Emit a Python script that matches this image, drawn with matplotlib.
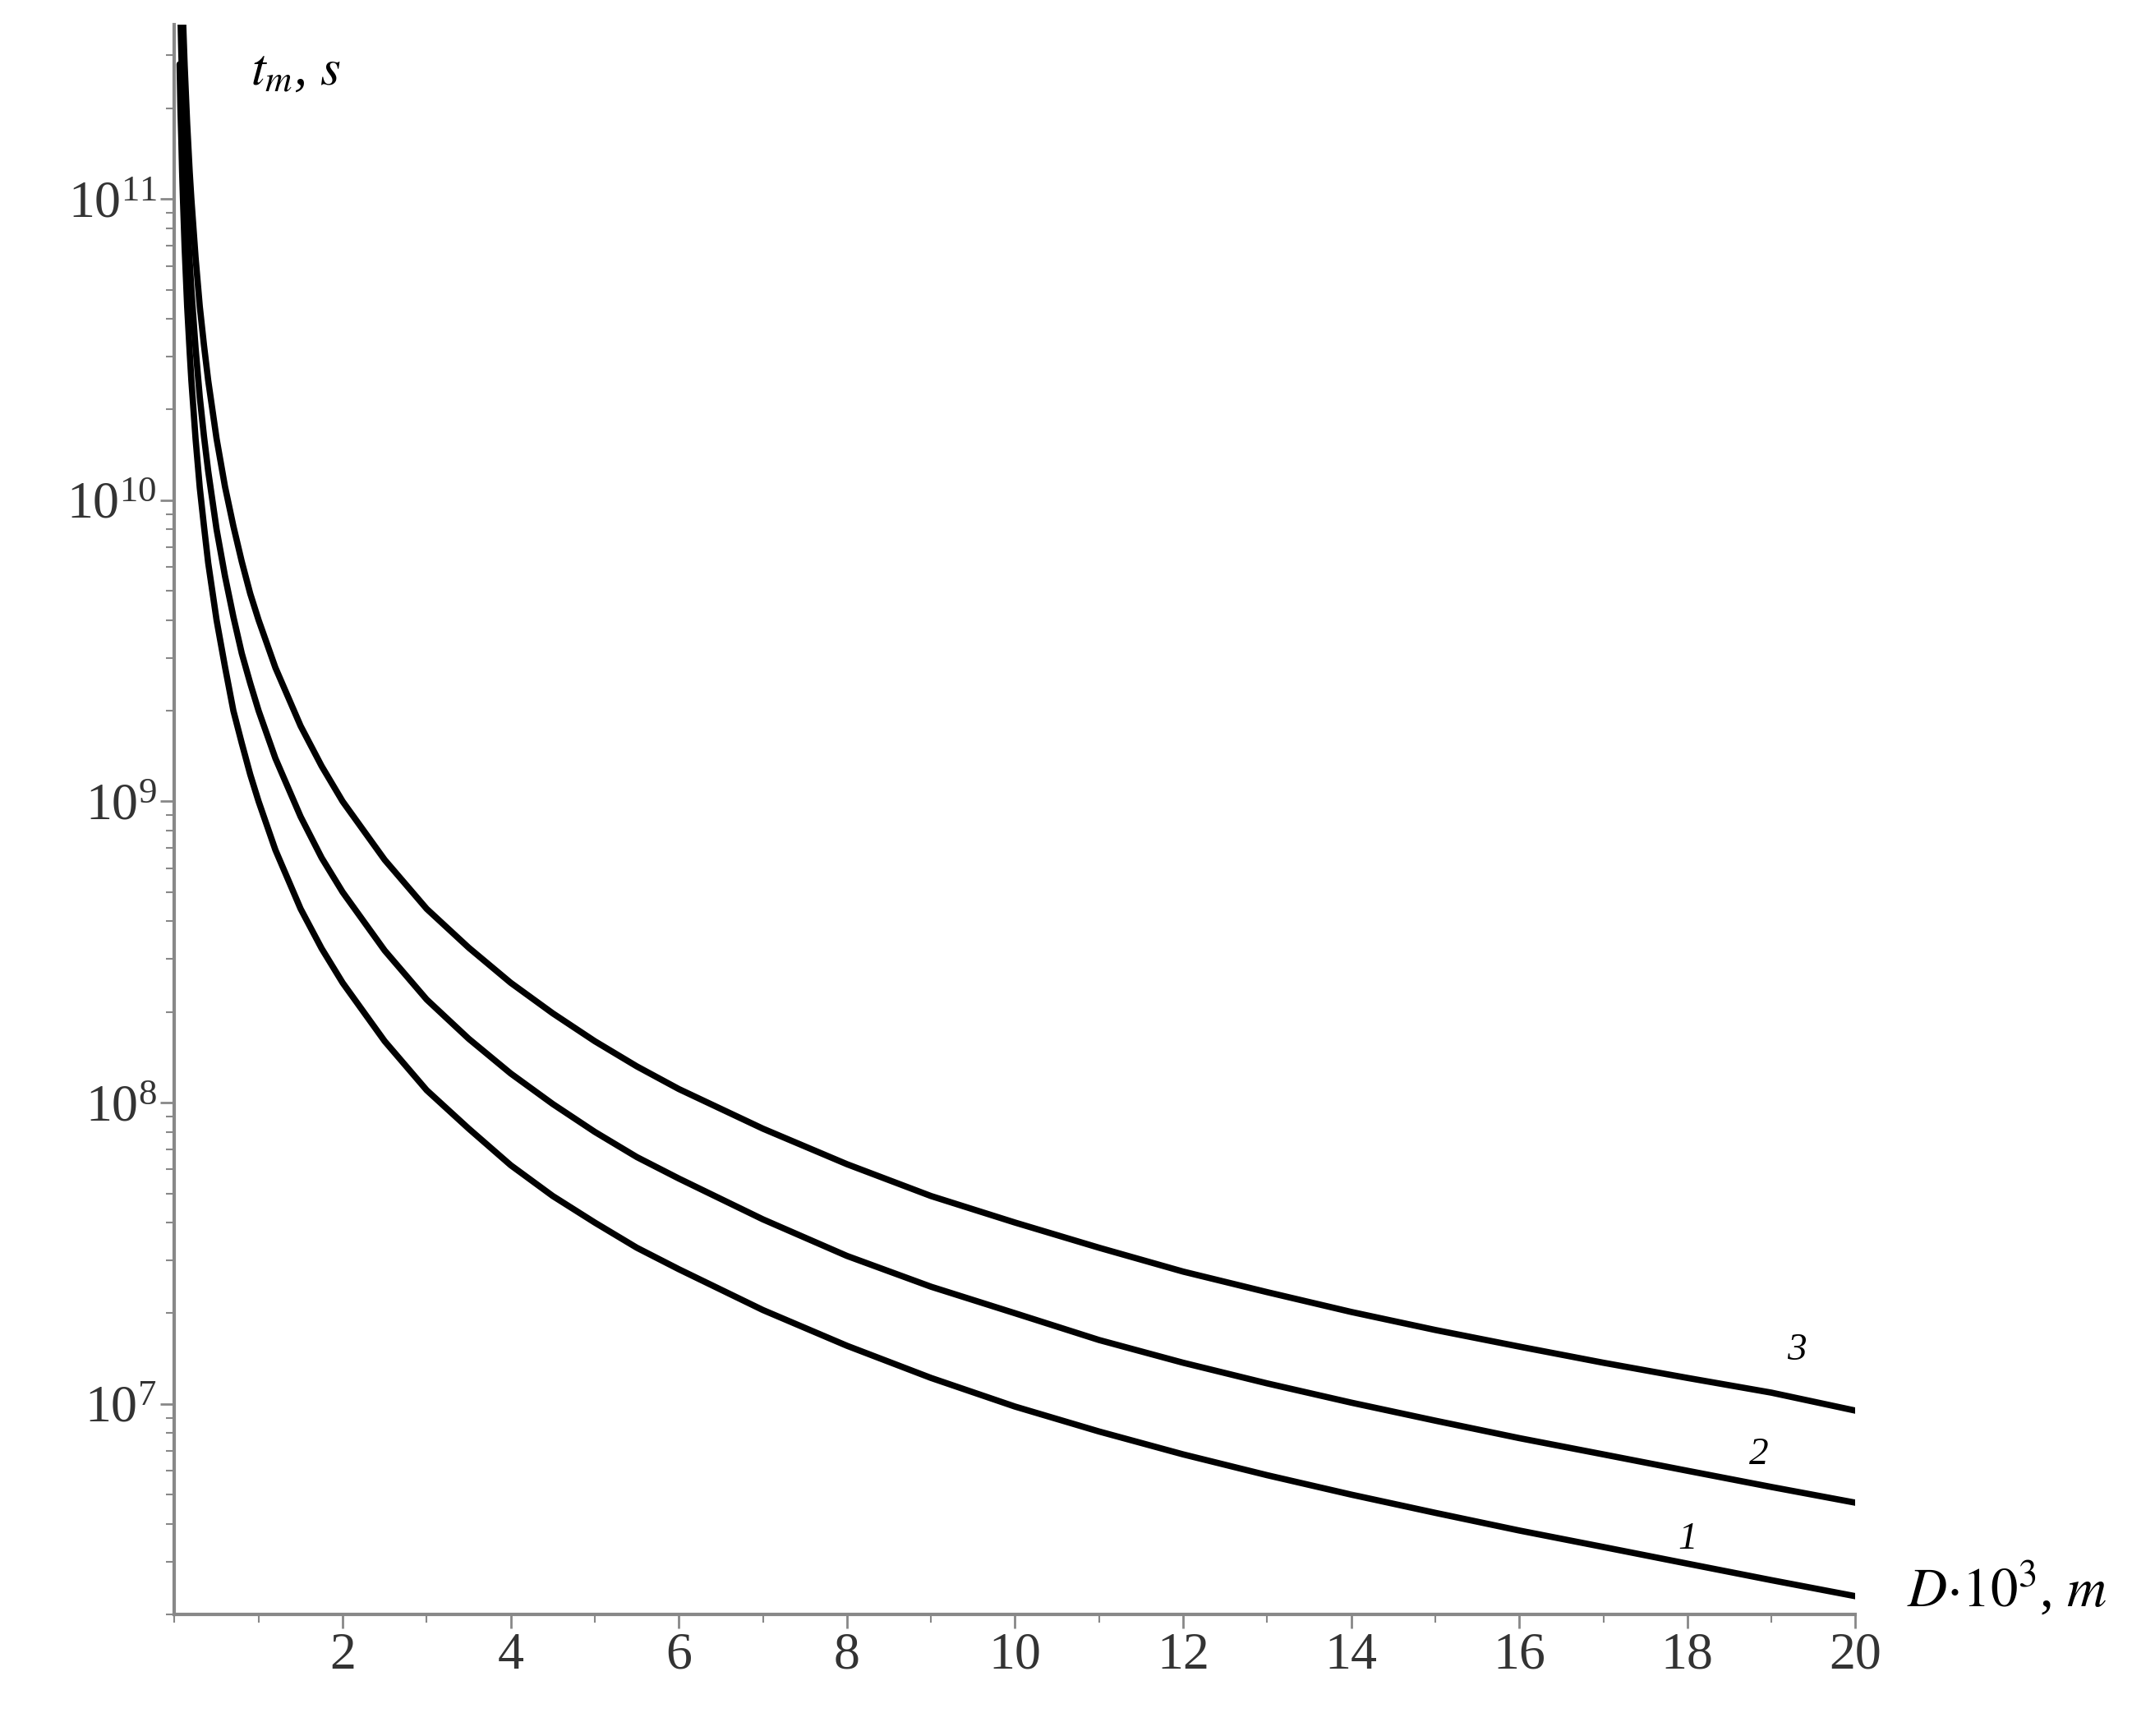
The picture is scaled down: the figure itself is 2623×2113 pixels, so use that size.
import numpy as np
import matplotlib.pyplot as plt
from matplotlib.ticker import LogLocator, MultipleLocator, FixedLocator

# values
D = [0.06, 0.07, 0.08, 0.09, 0.1, 0.12, 0.15, 0.18, 0.2, 0.25, 0.3, 0.35,
     0.4, 0.5, 0.6, 0.7, 0.8, 0.9, 1, 1.2, 1.5, 1.75, 2, 2.5, 3, 3.5, 4, 4.5,
     5, 5.5, 6, 7, 8, 9, 10, 11, 12, 13, 14, 15, 16, 17, 18, 19, 20]
t1 = [2.8e11, 2.0e11, 1.6e11, 1.23e11, 1e11, 6.9e10, 4.4e10, 3.1e10, 2.5e10,
      1.6e10, 1.1e10, 8.2e9, 6.2e9, 4e9, 2.8e9, 2e9, 1.56e9, 1.23e9, 1e9,
      6.9e8, 4.4e8, 3.25e8, 2.5e8, 1.6e8, 1.1e8, 8.2e7, 6.2e7, 4.9e7, 4e7,
      3.3e7, 2.8e7, 2.05e7, 1.56e7, 1.22e7, 9.8e6, 8.1e6, 6.8e6, 5.8e6, 5e6,
      4.35e6, 3.8e6, 3.35e6, 2.95e6, 2.6e6, 2.3e6]
t2 = [5.6e11, 4.1e11, 3.1e11, 2.47e11, 2e11, 1.39e11, 8.9e10, 6.2e10, 5e10,
      3.2e10, 2.2e10, 1.63e10, 1.25e10, 8e9, 5.6e9, 4.1e9, 3.1e9, 2.47e9,
      2e9, 1.39e9, 8.9e8, 6.5e8, 5e8, 3.2e8, 2.2e8, 1.63e8, 1.25e8, 9.9e7,
      8e7, 6.6e7, 5.6e7, 4.1e7, 3.1e7, 2.45e7, 2e7, 1.63e7, 1.37e7, 1.17e7,
      1.01e7, 8.8e6, 7.7e6, 6.8e6, 6e6, 5.3e6, 4.7e6]
t3 = [1.1e12, 8.2e11, 6.2e11, 4.9e11, 4e11, 2.78e11, 1.78e11, 1.23e11, 1e11,
      6.4e10, 4.4e10, 3.27e10, 2.5e10, 1.6e10, 1.11e10, 8.2e9, 6.25e9,
      4.9e9, 4e9, 2.78e9, 1.78e9, 1.31e9, 1e9, 6.4e8, 4.4e8, 3.27e8, 2.5e8,
      1.98e8, 1.6e8, 1.32e8, 1.11e8, 8.2e7, 6.25e7, 4.9e7, 4e7, 3.3e7,
      2.75e7, 2.35e7, 2.02e7, 1.76e7, 1.55e7, 1.37e7, 1.22e7, 1.09e7, 9.5e6]
x_ticks = [2, 4, 6, 8, 10, 12, 14, 16, 18, 20]

plt.rcParams['font.family'] = ['Liberation Serif', 'DejaVu Serif']
plt.rcParams['mathtext.fontset'] = 'stix'

fig = plt.figure(figsize=(26.23, 21.13), dpi=100)
ax = fig.add_axes([0.081, 0.070, 0.780, 0.916])

for t in (t1, t2, t3):
    ax.plot(D, t, color='black', lw=5.5, solid_capstyle='round')

ax.set_yscale('log')
ax.set_xlim(0, 20)
ax.set_ylim(2.0e6, 3.8e11)
ax.xaxis.set_major_locator(FixedLocator(x_ticks))
ax.xaxis.set_minor_locator(MultipleLocator(1))
ax.yaxis.set_major_locator(LogLocator(base=10, numticks=20))
ax.yaxis.set_minor_locator(LogLocator(base=10, subs=np.arange(2, 10), numticks=20))
ax.tick_params(axis='both', which='major', labelsize=46, length=12, width=2,
               color='#888888', colors='#333333')
ax.tick_params(axis='both', which='minor', length=7, width=1.5, color='#888888')
for s in ('top', 'right'):
    ax.spines[s].set_visible(False)
for s in ('left', 'bottom'):
    ax.spines[s].set_color('#888888')
    ax.spines[s].set_linewidth(3)

ax.text(0.045, 0.985, r'$t_m$, $s$', transform=ax.transAxes, fontsize=46,
        style='italic', va='top')
fig.text(0.885, 0.085, r'$D{\cdot}10^3$, $m$', fontsize=48, ha='left', va='center')
ax.text(19.3, 1.4e7, '3', fontsize=34, style='italic', ha='center')
ax.text(18.85, 6.3e6, '2', fontsize=34, style='italic', ha='center')
ax.text(18.0, 3.3e6, '1', fontsize=34, style='italic', ha='center')

fig.savefig('out.png', dpi=100)
